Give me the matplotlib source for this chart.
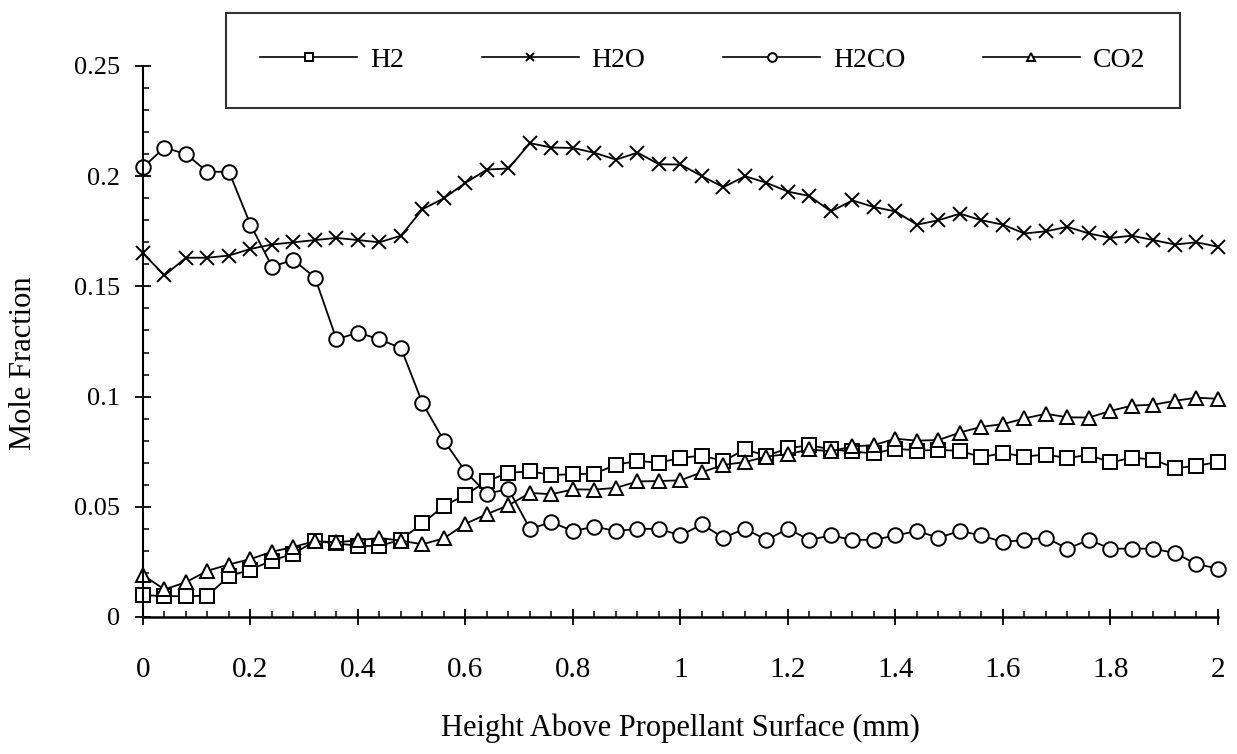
import matplotlib
matplotlib.use('Agg')
import matplotlib.pyplot as plt
from matplotlib.ticker import MultipleLocator, FuncFormatter

plt.rcParams['font.family'] = ['Liberation Serif', 'DejaVu Serif']

# height above surface (mm), one reading every 0.04 mm
height = [0.00, 0.04, 0.08, 0.12, 0.16, 0.20, 0.24, 0.28, 0.32, 0.36,
          0.40, 0.44, 0.48, 0.52, 0.56, 0.60, 0.64, 0.68, 0.72, 0.76,
          0.80, 0.84, 0.88, 0.92, 0.96, 1.00, 1.04, 1.08, 1.12, 1.16,
          1.20, 1.24, 1.28, 1.32, 1.36, 1.40, 1.44, 1.48, 1.52, 1.56,
          1.60, 1.64, 1.68, 1.72, 1.76, 1.80, 1.84, 1.88, 1.92, 1.96, 2.00]

h2 = [0.0099, 0.0095, 0.0094, 0.0097, 0.0185, 0.0215, 0.0256, 0.0288, 0.0344, 0.0334,
      0.0323, 0.0322, 0.0351, 0.0425, 0.0504, 0.0554, 0.0617, 0.0654, 0.0661, 0.0644,
      0.0648, 0.0650, 0.0691, 0.0708, 0.0700, 0.0722, 0.0732, 0.0708, 0.0760, 0.0732,
      0.0765, 0.0780, 0.0760, 0.0751, 0.0742, 0.0764, 0.0755, 0.0758, 0.0754, 0.0725,
      0.0744, 0.0728, 0.0737, 0.0721, 0.0736, 0.0701, 0.0723, 0.0714, 0.0676, 0.0685, 0.0704]

h2o = [0.165, 0.155, 0.163, 0.163, 0.164, 0.167, 0.169, 0.170, 0.171, 0.172,
       0.171, 0.170, 0.173, 0.185, 0.190, 0.197, 0.203, 0.2035, 0.215, 0.213,
       0.2128, 0.2106, 0.2075, 0.2107, 0.2054, 0.2053, 0.200, 0.195, 0.200, 0.197,
       0.193, 0.191, 0.184, 0.189, 0.186, 0.184, 0.178, 0.180, 0.183, 0.180,
       0.178, 0.174, 0.175, 0.177, 0.174, 0.172, 0.173, 0.171, 0.169, 0.170, 0.168]

h2co = [0.204, 0.213, 0.210, 0.202, 0.202, 0.178, 0.159, 0.162, 0.154, 0.126,
        0.129, 0.126, 0.122, 0.097, 0.080, 0.066, 0.056, 0.058, 0.040, 0.043,
        0.039, 0.041, 0.039, 0.040, 0.040, 0.037, 0.042, 0.036, 0.040, 0.035,
        0.040, 0.035, 0.037, 0.035, 0.035, 0.037, 0.039, 0.036, 0.039, 0.037,
        0.034, 0.035, 0.036, 0.031, 0.035, 0.031, 0.031, 0.031, 0.029, 0.024, 0.022]

co2 = [0.0190, 0.0125, 0.0158, 0.0210, 0.0238, 0.0263, 0.0296, 0.0318, 0.0344, 0.0339,
       0.0348, 0.0359, 0.0346, 0.0330, 0.0357, 0.0423, 0.0467, 0.0507, 0.0563, 0.0557,
       0.0579, 0.0578, 0.0586, 0.0615, 0.0617, 0.0620, 0.0657, 0.0690, 0.0703, 0.0728,
       0.0739, 0.0760, 0.0752, 0.0774, 0.0780, 0.0809, 0.0800, 0.0803, 0.0837, 0.0863,
       0.0875, 0.0901, 0.0922, 0.0906, 0.0905, 0.0935, 0.0959, 0.0963, 0.0981, 0.0995, 0.0990]

fig = plt.figure(figsize=(12.37, 7.54), dpi=100)
ax = fig.add_axes([0.1156, 0.1817, 0.869, 0.7308])

style = dict(color='black', lw=1.3, mfc='white', mec='black', mew=1.4, clip_on=False)
ax.plot(height, h2, marker='s', ms=9.5, label='H2', **style)
ax.plot(height, h2o, marker='x', ms=9.5, label='H2O', **style)
ax.plot(height, h2co, marker='o', ms=10.5, label='H2CO', **style)
ax.plot(height, co2, marker='^', ms=10, label='CO2', **style)

ax.set_xlim(0, 2)
ax.set_ylim(0, 0.25)
ax.spines['top'].set_visible(False)
ax.spines['right'].set_visible(False)
ax.spines['left'].set_linewidth(1.5)
ax.spines['bottom'].set_linewidth(1.8)

fmt = FuncFormatter(lambda v, p: '{:g}'.format(round(v, 3)))
ax.xaxis.set_major_locator(MultipleLocator(0.2))
ax.xaxis.set_minor_locator(MultipleLocator(0.04))
ax.yaxis.set_major_locator(MultipleLocator(0.05))
ax.yaxis.set_minor_locator(MultipleLocator(0.01))
ax.xaxis.set_major_formatter(fmt)
ax.yaxis.set_major_formatter(fmt)

ax.tick_params(axis='x', which='major', direction='inout', length=11, width=1.3,
               pad=23, labelsize=21)
ax.tick_params(axis='y', which='major', direction='inout', length=11, width=1.3,
               pad=11, labelsize=19)
ax.tick_params(which='minor', direction='in', length=4, width=1.1)

ax.set_xlabel('Height Above Propellant Surface (mm)', fontsize=22, labelpad=22)
ax.set_ylabel('Mole Fraction', fontsize=22)
ax.yaxis.set_label_coords(-0.098, 0.46)

leg = fig.legend(loc='center', bbox_to_anchor=(0.568, 0.920), ncol=4, fontsize=20,
                 handlelength=3.5, handletextpad=0.45, columnspacing=2.8,
                 borderpad=1.25, markerscale=0.6, fancybox=False, frameon=True)
leg.get_frame().set_edgecolor('black')
leg.get_frame().set_linewidth(1.5)
for line in leg.get_lines():
    line.set_linewidth(1.2)

fig.savefig('out.png', dpi=100)
